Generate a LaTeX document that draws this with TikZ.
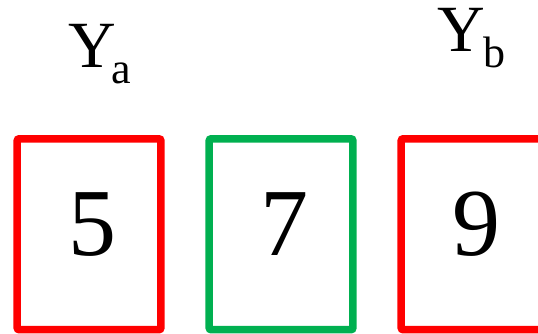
\documentclass[tikz,border=0pt]{standalone}
\usepackage{fontspec}
\setmainfont{Liberation Serif}
\usetikzlibrary{positioning}
\definecolor{cellred}{RGB}{255,0,0}
\definecolor{cellgreen}{RGB}{0,176,80}

\begin{document}
\begin{tikzpicture}[x=1bp, y=-1bp,
  cell/.style={draw, line width=7.5bp, rounded corners=2bp, outer sep=0pt,
    inner sep=0pt, minimum width=143.7bp, minimum height=190.9bp},
  digit/.style={inner sep=0pt, font=\fontsize{96bp}{96bp}\selectfont},
  var/.style={inner sep=0pt, anchor=base west, font=\fontsize{66bp}{66bp}\selectfont}]
  \useasboundingbox (0,0) rectangle (538,333);
  % cells
  \node[cell, cellred] (ca) at (89.05,234.25) {};
  \node[cell, cellgreen, right=48.3bp of ca] (cm) {};
  \node[cell, cellred, right=48.3bp of cm] (cb) {};
  % values
  \node[digit] (va) at ([shift={(3bp,10bp)}]ca.center) {5};
  \node[digit] (vm) at ([shift={(3bp,10bp)}]cm.center) {7};
  \node[digit] (vb) at ([shift={(3bp,10bp)}]cb.center) {9};
  % labels
  \node[var] (ya) at (68,67) {Y\kern-4.5bp\raisebox{-16bp}{\fontsize{44bp}{44bp}\selectfont a}};
  \node[var] (yb) at (437,51) {Y\kern-1bp\raisebox{-16bp}{\fontsize{44bp}{44bp}\selectfont b}};
\end{tikzpicture}
\end{document}
